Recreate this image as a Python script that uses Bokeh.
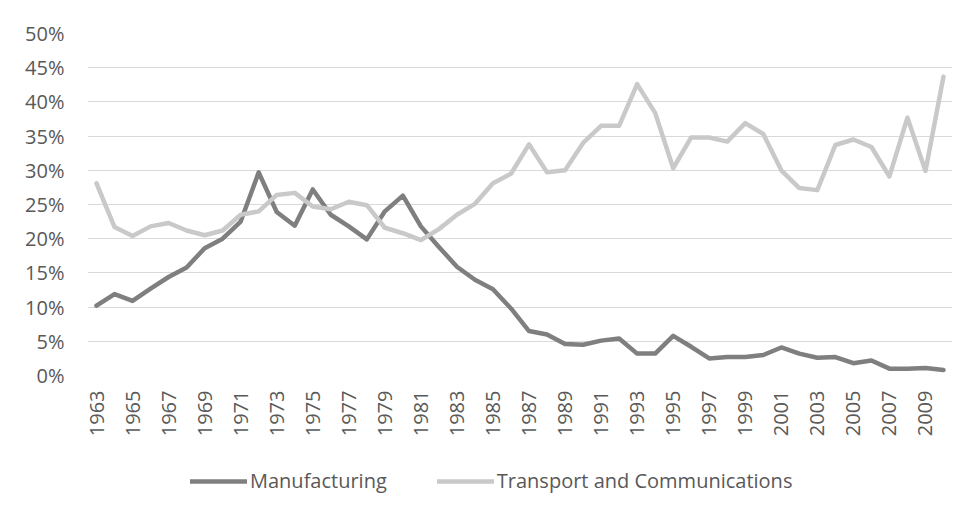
import math
from bokeh.plotting import figure
from bokeh.layouts import column
from bokeh.models import Range1d, FixedTicker, PrintfTickFormatter, Legend, LegendItem
from bokeh.embed import file_html
from bokeh.resources import INLINE

years = list(range(1963, 2011))
manufacturing = [10.2, 11.9, 10.9, 12.7, 14.4, 15.8, 18.6, 20.0, 22.5, 29.7,
                 23.9, 21.9, 27.2, 23.5, 21.8, 19.9, 24.0, 26.3, 21.8, 18.8,
                 15.9, 14.0, 12.6, 9.8, 6.5, 6.0, 4.6, 4.5, 5.1, 5.4,
                 3.2, 3.2, 5.8, 4.2, 2.5, 2.7, 2.7, 3.0, 4.1, 3.2,
                 2.6, 2.7, 1.8, 2.2, 1.0, 1.0, 1.1, 0.8]
transport = [28.1, 21.7, 20.4, 21.8, 22.3, 21.2, 20.5, 21.2, 23.5, 24.0,
             26.4, 26.7, 24.7, 24.3, 25.4, 24.9, 21.6, 20.8, 19.8, 21.4,
             23.5, 25.1, 28.1, 29.5, 33.8, 29.7, 30.0, 34.0, 36.5, 36.5,
             42.6, 38.4, 30.3, 34.8, 34.8, 34.2, 36.9, 35.3, 30.0, 27.4,
             27.1, 33.7, 34.5, 33.4, 29.1, 37.7, 29.9, 43.7]
y_ticks = [0, 5, 10, 15, 20, 25, 30, 35, 40, 45, 50]
x_ticks = list(range(1963, 2011, 2))
series_names = ["Manufacturing", "Transport and Communications"]
series_colors = ["#7f7f7f", "#c9c9c9"]

FONT = "Open Sans"
TXT = "#595959"

p = figure(width=962, height=450, output_backend="svg", toolbar_location=None,
           x_range=Range1d(1962.5, 2010.5), y_range=Range1d(0, 50),
           min_border_left=87, min_border_right=10, min_border_top=33,
           min_border_bottom=75)
p.outline_line_color = None
p.background_fill_color = "white"
p.border_fill_color = "white"

p.xgrid.grid_line_color = None
p.ygrid.grid_line_color = "#d9d9d9"
p.ygrid.grid_line_width = 1

p.yaxis.ticker = FixedTicker(ticks=y_ticks)
p.yaxis.formatter = PrintfTickFormatter(format="%d%%")
p.yaxis.axis_line_color = None
p.yaxis.major_tick_line_color = None
p.yaxis.minor_tick_line_color = None
p.yaxis.major_tick_out = 0
p.yaxis.major_tick_in = 0
p.yaxis.major_label_standoff = 23
p.yaxis.major_label_text_font = FONT
p.yaxis.major_label_text_font_size = "20px"
p.yaxis.major_label_text_color = TXT

p.xaxis.ticker = FixedTicker(ticks=x_ticks)
p.xaxis.formatter = PrintfTickFormatter(format="%d")
p.xaxis.axis_line_color = None
p.xaxis.major_tick_line_color = None
p.xaxis.minor_tick_line_color = None
p.xaxis.major_tick_out = 0
p.xaxis.major_tick_in = 0
p.xaxis.major_label_standoff = 15
p.xaxis.major_label_orientation = math.pi / 2
p.xaxis.major_label_text_font = FONT
p.xaxis.major_label_text_font_size = "20px"
p.xaxis.major_label_text_color = TXT

p.line(years, manufacturing, line_color=series_colors[0], line_width=4.5,
       line_join="round", line_cap="round")
p.line(years, transport, line_color=series_colors[1], line_width=4.5,
       line_join="round", line_cap="round")

# legend strip below the chart (proxy renderers lie outside the visible range)
p2 = figure(width=962, height=57, output_backend="svg", toolbar_location=None,
            x_range=Range1d(0, 1), y_range=Range1d(0, 1),
            min_border=0, min_border_left=0, min_border_right=0,
            min_border_top=0, min_border_bottom=0,
            x_axis_type=None, y_axis_type=None)
p2.outline_line_color = None
p2.grid.visible = False
p2.border_fill_color = "white"
l1 = p2.line([-5, -4], [-5, -4], line_color=series_colors[0], line_width=4.5, line_cap="round")
l2 = p2.line([-5, -4], [-5, -4], line_color=series_colors[1], line_width=4.5, line_cap="round")

legend = Legend(items=[LegendItem(label=series_names[0], renderers=[l1]),
                       LegendItem(label=series_names[1], renderers=[l2])],
                orientation="horizontal", location=(103, 13),
                glyph_width=57, glyph_height=20, label_standoff=3, spacing=50,
                padding=0, margin=0, border_line_color=None,
                background_fill_alpha=0,
                label_text_font=FONT, label_text_font_size="20px",
                label_text_color=TXT)
p2.add_layout(legend, "center")

layout = column(p, p2, spacing=0)
open("out.html", "w").write(file_html(layout, INLINE))
